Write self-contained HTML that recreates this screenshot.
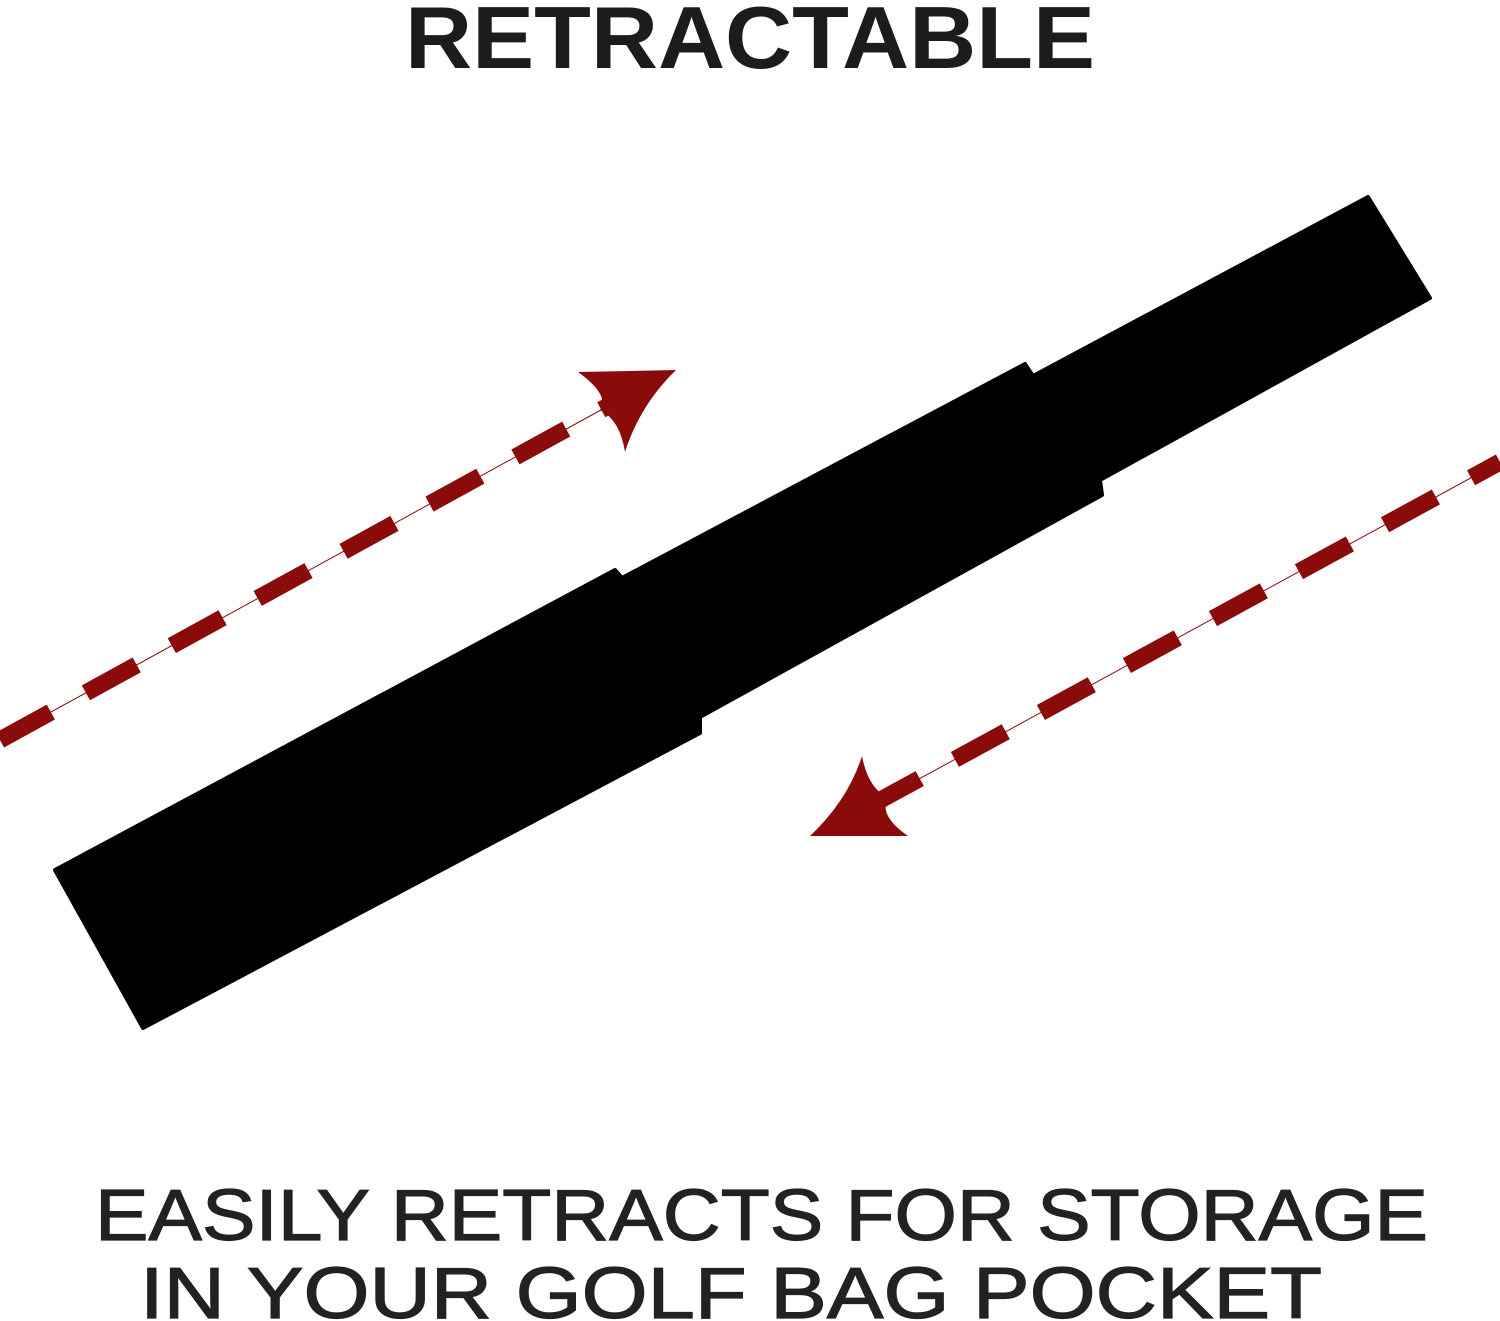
<!DOCTYPE html>
<html><head><style>html,body{margin:0;padding:0;background:#fff}svg{display:block}</style></head>
<body>
<svg width="1500" height="1321" viewBox="0 0 1500 1321" xmlns="http://www.w3.org/2000/svg">
<text x="405" y="68" font-family="Liberation Sans, sans-serif" font-weight="bold" font-size="88" fill="#1c1c1c" textLength="690" lengthAdjust="spacingAndGlyphs">RETRACTABLE</text>
<polygon points="55,870 615,570 622,578 1025,364 1033,376 1368,197 1430,298 1100,480 1102,495 700,717 700,733 143,1028" fill="#000" stroke="#000" stroke-width="4" stroke-linejoin="round"/>
<g stroke="#8b0a0a">
<line x1="0" y1="740" x2="610" y2="405" stroke-width="1"/>
<line x1="0" y1="740" x2="610" y2="405" stroke-width="17" stroke-dasharray="58 40"/>
<line x1="1500" y1="462" x2="875" y2="803" stroke-width="1"/>
<line x1="1500" y1="462" x2="875" y2="803" stroke-width="17" stroke-dasharray="58 40" stroke-dashoffset="25"/>
</g>
<path d="M676,370 L578,372 Q610,395 600,410 Q620,420 625,452 Q640,405 676,370 Z" fill="#8b0a0a"/>
<path d="M810,836 L908,836 Q878,815 888,798 Q868,788 862,756 Q848,800 810,836 Z" fill="#8b0a0a"/>
<g font-family="Liberation Sans, sans-serif" font-size="72" fill="#222" stroke="#222" stroke-width="1.2">
<text x="95" y="1240" textLength="1333" lengthAdjust="spacingAndGlyphs">EASILY  RETRACTS  FOR  STORAGE</text>
<text x="140" y="1318" textLength="1182" lengthAdjust="spacingAndGlyphs">IN  YOUR  GOLF  BAG  POCKET</text>
</g>
</svg>
</body></html>
